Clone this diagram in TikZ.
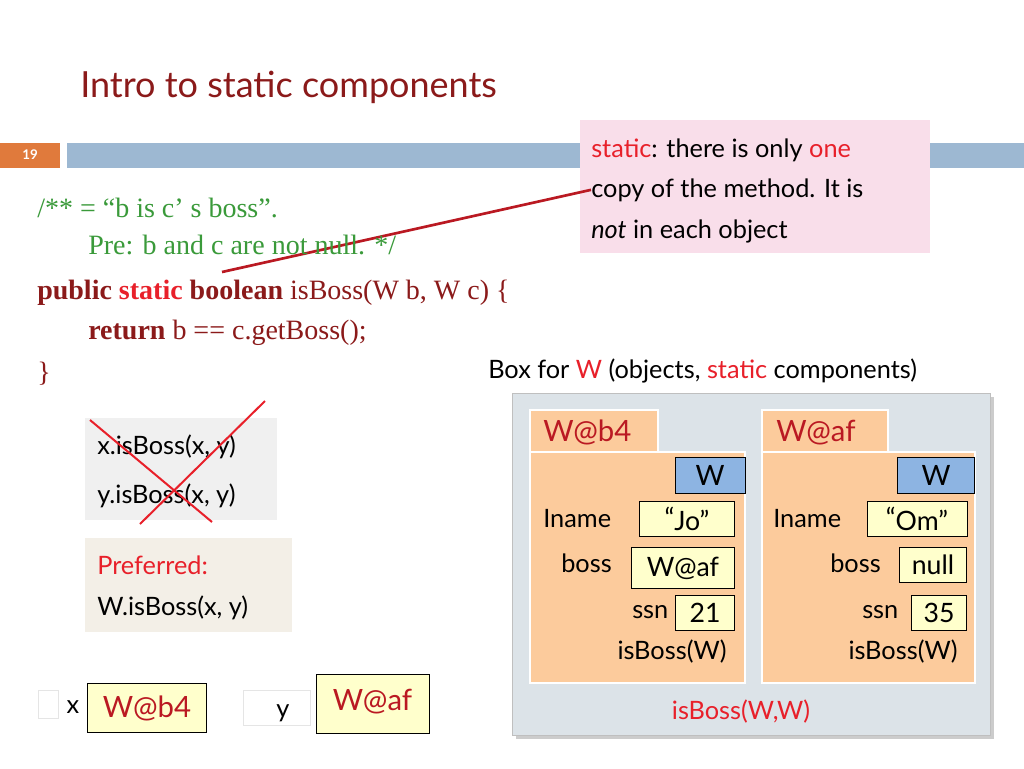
\documentclass[tikz,border=0pt]{standalone}
\usepackage{fontspec}
\setmainfont{Liberation Serif}
\newfontfamily\gsf{Lato}
\definecolor{dred}{HTML}{8B1A1A}
\definecolor{sred}{HTML}{E8202A}
\definecolor{cgreen}{HTML}{3A9A3A}
\definecolor{peach}{HTML}{FCCB9C}
\definecolor{yel}{HTML}{FFFFCC}
\definecolor{wblue}{HTML}{8DB4E2}
\begin{document}
\begin{tikzpicture}[x=0.75pt,y=-0.75pt,
 txt/.style={font=\gsf\fontsize{19}{22}\selectfont,inner sep=0pt},
 code/.style={font=\fontsize{21}{24}\selectfont,inner sep=0pt,anchor=base west},
 val/.style={draw,fill=yel,font=\gsf\fontsize{20}{22}\selectfont,inner sep=0pt},
 obj/.style={fill=peach,draw=white,line width=1pt}]
\useasboundingbox (0,0) rectangle (1024,768);
\fill[white] (0,0) rectangle (1024,768);
\node[anchor=base west,font=\gsf\fontsize{27}{30}\selectfont,text=dred,inner sep=0] (title) at (80,97) {Intro to static components};
\fill[color={rgb,255:red,224;green,122;blue,60}] (0,143) rectangle (60,168);
\node[font=\gsf\bfseries\fontsize{10}{12}\selectfont,text=white] (num) at (30,155) {19};
\fill[color={rgb,255:red,157;green,184;blue,210}] (67,143) rectangle (1024,168);
% pink note
\fill[color={rgb,255:red,249;green,222;blue,234}] (580,120) rectangle (930,253);
\node[txt,anchor=base west] (n1) at (591,157) {\textcolor{sred}{static}: there is only \textcolor{sred}{one}};
\node[txt,anchor=base west] (n2) at (591,197) {copy of the method. It is};
\node[txt,anchor=base west] (n3) at (591,238) {\itshape not\upshape\ in each object};
\coordinate (la) at (222,272);
\draw[sred!80!black,line width=2pt] (la) -- (n2.west);
% code
\node[code,text=cgreen] (c1) at (37,217) {/** = “b is c’ s boss”.};
\node[code,text=cgreen] (c2) at (88,254) {Pre: b and c are not null. */};
\node[code] (c3) at (37,299) {\textcolor{dred}{\textbf{public}} \textcolor{sred}{\textbf{static}} \textcolor{dred}{\textbf{boolean}} \textcolor{dred}{isBoss(W b, W c) \{}};
\node[code] (c4) at (88,339) {\textcolor{dred}{\textbf{return}} \textcolor{dred}{b == c.getBoss();}};
\node[code,text=dred] (c5) at (37,381) {\}};
\node[txt,anchor=base west] (boxfor) at (488,378) {Box for \textcolor{sred}{W} (objects, \textcolor{sred}{static} components)};
% big box
\fill[gray!40] (516,397) rectangle (994,739);
\fill[color={rgb,255:red,220;green,227;blue,232},draw=gray!50] (512,393) rectangle (990,735);
% object 1
\fill[obj] (530,410) rectangle (658,452);
\node[txt,anchor=base west,font=\gsf\fontsize{22}{24}\selectfont,text=sred!80!black] (o1) at (543,441) {W@b4};
\fill[obj] (530,452) rectangle (745,683);
\node[draw,fill=wblue,minimum width=70pt*0.75,minimum height=36pt*0.75,txt,font=\gsf\fontsize{21}{22}\selectfont] (w1) at (710,475) {W};
\node[txt,anchor=base west] (i1) at (543,527) {Iname};
\node[val,minimum width=71,minimum height=26] (jo) at (687,519) {\raisebox{2pt}{“}Jo”};
\node[txt,anchor=base west] (b1) at (561,572) {boss};
\node[val,minimum width=77,minimum height=31] (wa) at (683,568) {W@af};
\node[txt,anchor=base west] (s1) at (632,618) {ssn};
\node[val,minimum width=44,minimum height=26] (v21) at (705,613) {21};
\node[txt] (ib1) at (672,652) {isBoss(W)};
% object 2
\fill[obj] (762,410) rectangle (888,452);
\node[txt,anchor=base west,font=\gsf\fontsize{22}{24}\selectfont,text=sred!80!black] (o2) at (776,441) {W@af};
\fill[obj] (762,452) rectangle (975,683);
\node[draw,fill=wblue,minimum width=77pt*0.75,minimum height=36pt*0.75,txt,font=\gsf\fontsize{21}{22}\selectfont] (w2) at (936,475) {W};
\node[txt,anchor=base west] (i2) at (773,527) {Iname};
\node[val,minimum width=75,minimum height=26] (om) at (917,519) {\raisebox{2pt}{“}Om”};
\node[txt,anchor=base west] (b2) at (830,572) {boss};
\node[val,minimum width=50,minimum height=26] (nu) at (933,565) {null};
\node[txt,anchor=base west] (s2) at (862,618) {ssn};
\node[val,minimum width=41,minimum height=26] (v35) at (939,613) {35};
\node[txt] (ib2) at (903,652) {isBoss(W)};
\node[txt,text=sred] (ibw) at (741,712) {isBoss(W,W)};
% left boxes
\fill[color={rgb,255:red,240;green,240;blue,240}] (85,418) rectangle (277,520);
\node[txt,anchor=base west] (x1) at (97,454) {x.isBoss(x, y)};
\node[txt,anchor=base west] (y1) at (97,503) {y.isBoss(x, y)};
\coordinate (xa) at (90,420); \coordinate (xb) at (212,522);
\coordinate (xc) at (265,401); \coordinate (xd) at (140,524);
\draw[sred,line width=1.5pt] (xa) -- (xb) (xc) -- (xd);
\fill[color={rgb,255:red,243;green,239;blue,231}] (85,538) rectangle (292,632);
\node[txt,anchor=base west,text=sred] (pf) at (97,574) {Preferred:};
\node[txt,anchor=base west] (wi) at (97,615) {W.isBoss(x, y)};
% bottom vars
\draw[gray!20] (38,690) rectangle (58,718);
\node[txt] (xl) at (73,707) {x};
\node[val,minimum width=89,minimum height=37,font=\gsf\fontsize{22}{24}\selectfont,text=sred!80!black] (xv) at (147,708) {W@b4};
\draw[gray!20] (243,690) rectangle (310,725);
\node[txt] (yl) at (283,713) {y};
\node[val,minimum width=85,minimum height=44,font=\gsf\fontsize{22}{24}\selectfont,text=sred!80!black,anchor=north] (yv) at (372.5,674) {\raisebox{6pt}{W@af}};
\end{tikzpicture}
\end{document}
